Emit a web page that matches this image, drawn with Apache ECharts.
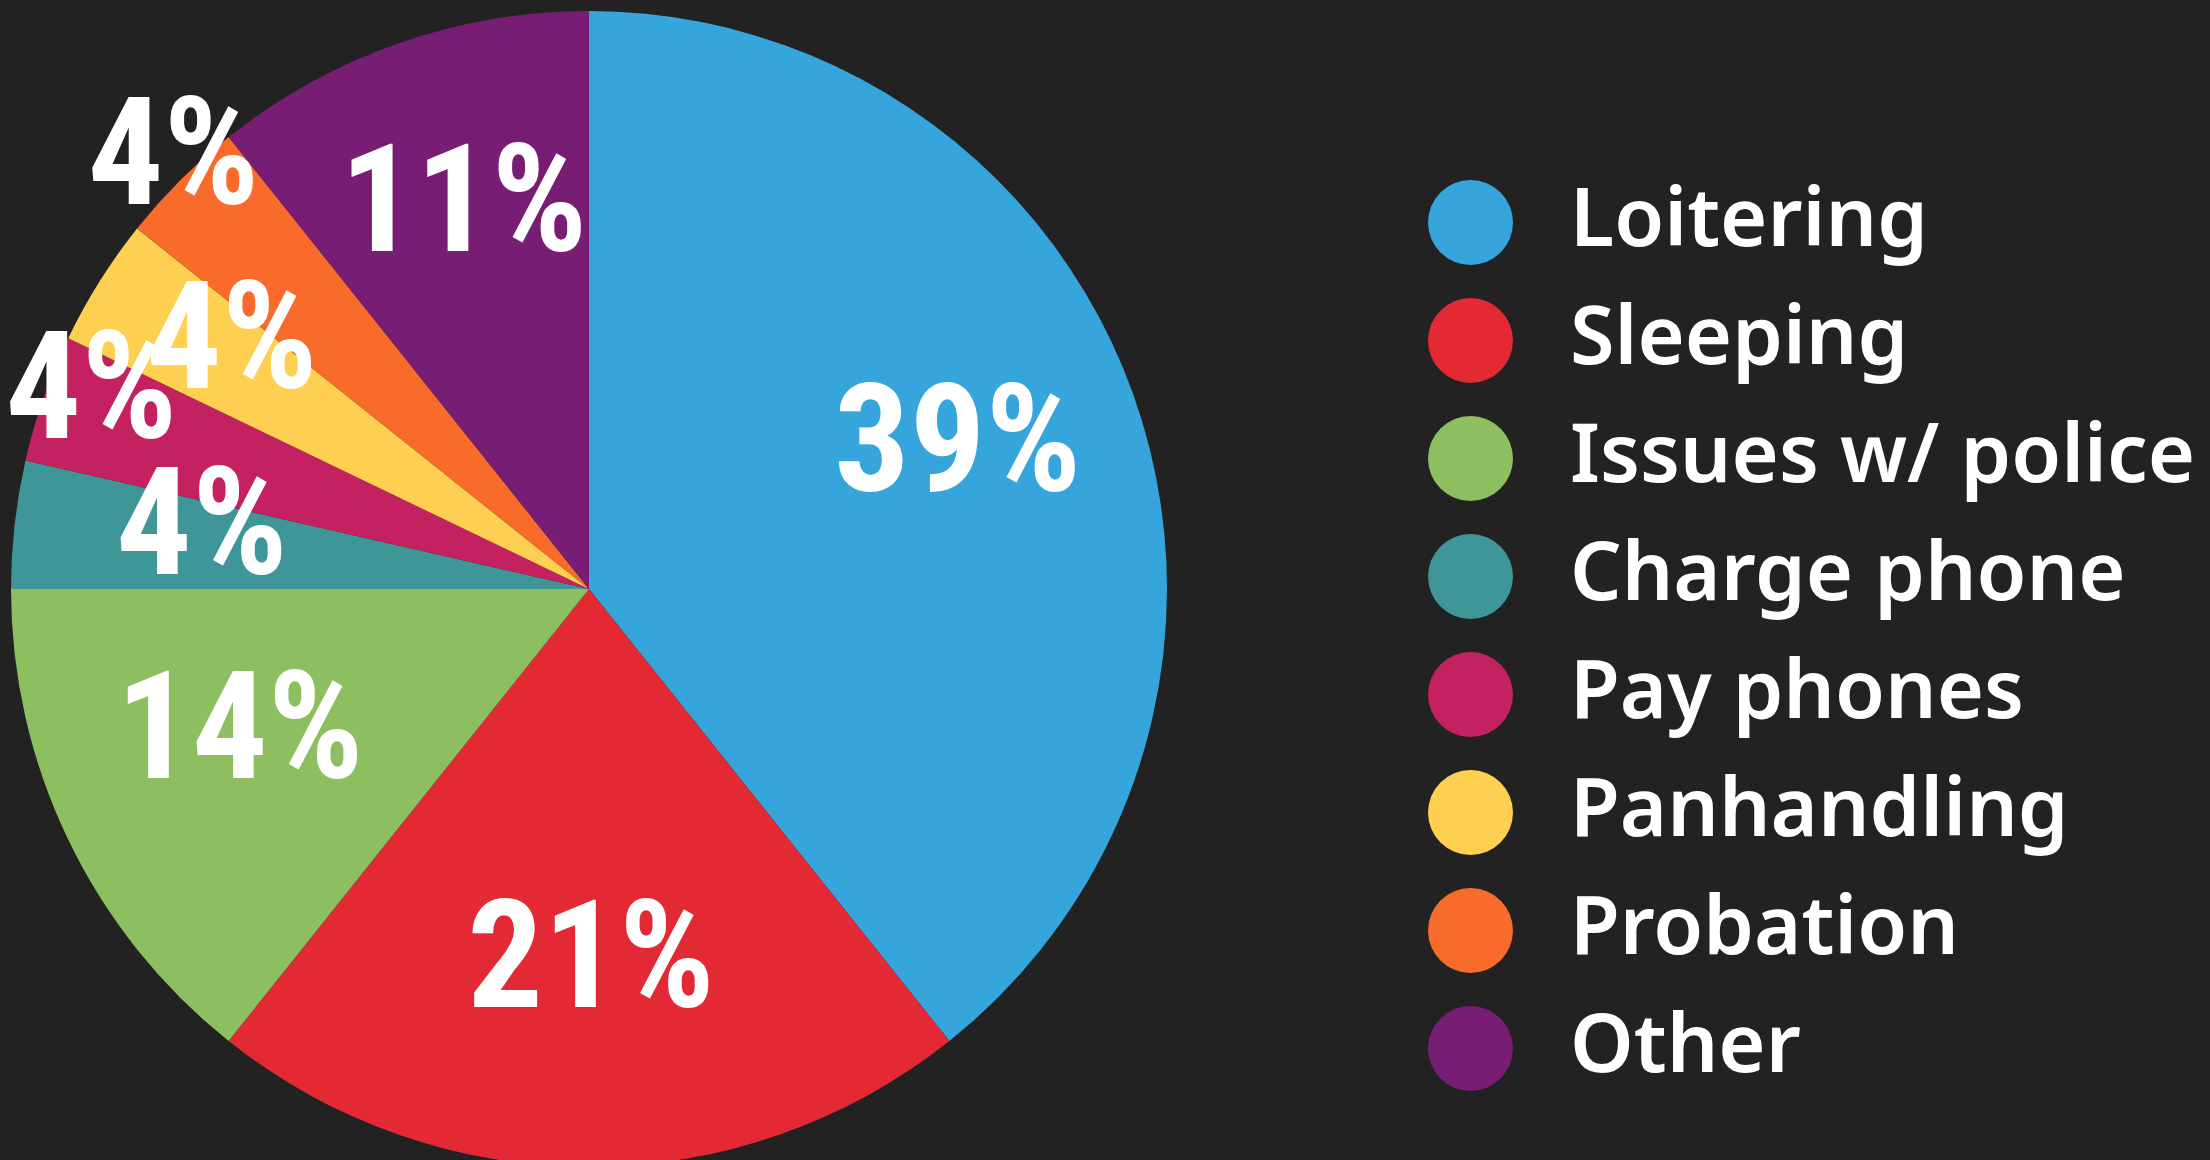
<!DOCTYPE html>
<html>
<head>
	<meta charset="UTF-8">
	<title>Reasons</title>
	<script src="https://cdn.jsdelivr.net/npm/echarts@6/dist/echarts.min.js"></script>
	<style>
		html, body { margin: 0; padding: 0; background: #222222; }
	</style>
</head>
<body>
<div id="main" style="width: 2210px;height:1160px;"></div>
<script type="text/javascript">
	// counts (labels are rounded percentages)
	var categories = ['Loitering', 'Sleeping', 'Issues w/ police', 'Charge phone', 'Pay phones', 'Panhandling', 'Probation', 'Other'];
	var counts = [11, 6, 4, 1, 1, 1, 1, 3];
	var colors = ['#35a5db', '#e32934', '#8dbf60', '#3e9699', '#c42160', '#fecf50', '#f96b2a', '#771d73'];

	// hand-placed label nudges, as in the original graphic
	var labelOffsets = [[93, -39], [2, 88], [-86, 25], [-97, -20], [-222, -92], [-110, -83], [-209, -216], [-29, -100]];

	var myChart = echarts.init(document.getElementById('main'));

	var data = categories.map(function (name, i) {
		return {
			name: name,
			value: counts[i],
			itemStyle: { color: colors[i] },
			label: { offset: labelOffsets[i] }
		};
	});

	var option = {
		backgroundColor: '#222222',
		animation: false,
		legend: {
			orient: 'vertical',
			left: 1428,
			top: 180,
			padding: 0,
			icon: 'circle',
			itemWidth: 85,
			itemHeight: 85,
			itemGap: 33,
			textStyle: {
				color: '#ffffff',
				fontFamily: 'Noto Sans',
				fontWeight: 600,
				fontSize: 81,
				padding: [0, 0, 0, 52]
			},
			data: categories
		},
		series: [
			{
				type: 'pie',
				center: [589, 589],
				radius: 578,
				startAngle: 90,
				clockwise: true,
				avoidLabelOverlap: false,
				itemStyle: { borderWidth: 0 },
				label: {
					show: true,
					position: 'inside',
					color: '#ffffff',
					fontFamily: 'Roboto Condensed',
					fontWeight: 'bold',
					fontSize: 150,
					formatter: function (p) {
						return Math.round(p.percent) + '%';
					}
				},
				labelLayout: { hideOverlap: false },
				labelLine: { show: false },
				emphasis: { disabled: true },
				data: data
			}]
	};
	myChart.setOption(option, true);
</script>
</body>
</html>
